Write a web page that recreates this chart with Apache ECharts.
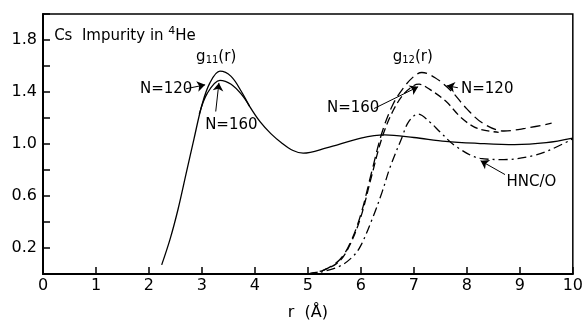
<!DOCTYPE html>
<html>
<head>
<meta charset="utf-8">
<script src="https://cdn.jsdelivr.net/npm/echarts@6/dist/echarts.min.js"></script>
<style>
  html, body { margin: 0; padding: 0; background: #fff; }
  #chart { width: 586px; height: 326px; }
</style>
</head>
<body>
<div id="chart"></div>
<script>
// g11(r), N=120 (solid)
var g11R120 = [2.24, 2.4, 2.55, 2.7, 2.85, 3.0, 3.15, 3.34, 3.55, 3.75, 3.9, 4.1, 4.3, 4.5, 4.72, 4.91, 5.35, 6.0, 6.45, 7.0, 7.6, 8.2, 8.9, 9.5, 10]
var g11V120 = [0.07, 0.27, 0.5, 0.77, 1.04, 1.30, 1.47, 1.56, 1.52, 1.40, 1.29, 1.17, 1.08, 1.01, 0.95, 0.93, 0.97, 1.045, 1.07, 1.05, 1.02, 1.005, 0.995, 1.01, 1.045]
// g11(r), N=160 (solid, only where it separates)
var g11R160 = [2.95, 3.1, 3.34, 3.55, 3.75, 3.9]
var g11V160 = [1.23, 1.39, 1.49, 1.46, 1.38, 1.29]
// g12(r), N=120 (long dash)
var g12R120 = [5.0, 5.3, 5.6, 5.8, 6.0, 6.2, 6.4, 6.6, 6.8, 7.0, 7.15, 7.4, 7.7, 8.0, 8.3, 8.7, 9.1, 9.6]
var g12V120 = [0.0, 0.03, 0.11, 0.24, 0.46, 0.78, 1.09, 1.30, 1.43, 1.52, 1.55, 1.51, 1.41, 1.27, 1.16, 1.10, 1.12, 1.16]
// g12(r), N=160 (dash)
var g12R160 = [5.0, 5.3, 5.6, 5.8, 6.0, 6.2, 6.4, 6.6, 6.8, 7.0, 7.1, 7.3, 7.6, 7.9, 8.2, 8.6]
var g12V160 = [0.0, 0.03, 0.10, 0.23, 0.44, 0.75, 1.05, 1.25, 1.38, 1.45, 1.46, 1.42, 1.33, 1.20, 1.12, 1.09]
// HNC/O (dash-dot)
var hncR = [5.0, 5.2, 5.6, 5.85, 6.0, 6.23, 6.4, 6.55, 6.77, 6.9, 7.08, 7.3, 7.5, 7.8, 8.25, 8.7, 9.25, 9.6, 10]
var hncV = [0.0, 0.01, 0.06, 0.135, 0.22, 0.44, 0.63, 0.82, 1.045, 1.17, 1.23, 1.17, 1.09, 0.98, 0.89, 0.88, 0.91, 0.96, 1.04]
var yLabels = [0.2, 0.6, 1.0, 1.4, 1.8]

function pairs(r, v) {
  return r.map(function (x, i) { return [x, v[i]] })
}

var font = 'DejaVu Sans'
var black = '#000'

var rich = {
  t: { fontSize: 15, color: black, fontFamily: font },
  sup: { fontSize: 11, color: black, fontFamily: font, padding: [0, 0, 9, 0] },
  sub: { fontSize: 10, color: black, fontFamily: font, padding: [8, 0, 0, 0] }
}

// annotation texts, in data coords
var notes = [
  { at: [0.21, 1.83], text: '{t|Cs  Impurity in }{sup|4}{t|He}' },
  { at: [2.89, 1.67], text: '{t|g}{sub|11}{t|(r)}' },
  { at: [6.60, 1.67], text: '{t|g}{sub|12}{t|(r)}' },
  { at: [1.83, 1.42], text: '{t|N=120}' },
  { at: [3.06, 1.144], text: '{t|N=160}' },
  { at: [7.89, 1.425], text: '{t|N=120}' },
  { at: [5.36, 1.273], text: '{t|N=160}' },
  { at: [8.75, 0.704], text: '{t|HNC/O}' }
]
// arrows, in data coords
var arrows = [
  { from: [2.70, 1.425], to: [3.06, 1.455], c: 0 },
  { from: [3.26, 1.25], to: [3.32, 1.47], c: 0 },
  { from: [7.83, 1.433], to: [7.62, 1.448], c: 0 },
  { from: [6.25, 1.273], to: [7.08, 1.44], c: -0.35 },
  { from: [8.72, 0.765], to: [8.26, 0.871], c: 0 }
]

var chart = echarts.init(document.getElementById('chart'))

function curve(name, r, v, type) {
  return {
    name: name,
    type: 'line',
    smooth: 0.35,
    symbol: 'none',
    data: pairs(r, v),
    lineStyle: { color: black, width: 1.3, type: type }
  }
}

var s0 = curve('g11 N=120', g11R120, g11V120, 'solid')
s0.markPoint = {
  symbol: 'circle',
  symbolSize: 0,
  data: notes.map(function (n) {
    return {
      coord: n.at,
      label: { show: true, position: 'right', distance: 0, formatter: n.text, rich: rich }
    }
  })
}
s0.markLine = {
  silent: true,
  symbol: ['none', 'arrow'],
  symbolSize: 8,
  label: { show: false },
  lineStyle: { color: black, width: 1, type: 'solid' },
  data: arrows.map(function (a) {
    return [
      { coord: a.from, lineStyle: { curveness: a.c } },
      { coord: a.to }
    ]
  })
}

chart.setOption({
  animation: false,
  backgroundColor: '#fff',
  grid: {
    left: 43, right: 13, top: 14, bottom: 48,
    show: true, borderColor: black, borderWidth: 1.5
  },
  xAxis: {
    type: 'value',
    min: 0, max: 10, interval: 1,
    name: 'r  (Å)',
    nameLocation: 'middle',
    nameGap: 31,
    nameTextStyle: { color: black, fontSize: 16, fontFamily: font },
    axisLine: { lineStyle: { color: black, width: 2 } },
    axisTick: { inside: true, length: 7, lineStyle: { color: black, width: 1.5 } },
    axisLabel: { color: black, fontSize: 16, fontFamily: font, margin: 4 },
    splitLine: { show: false }
  },
  yAxis: {
    type: 'value',
    min: 0, max: 2, interval: 0.2,
    axisLine: { show: true, lineStyle: { color: black, width: 2 } },
    axisTick: { inside: true, length: 7, lineStyle: { color: black, width: 1.5 } },
    axisLabel: {
      color: black, fontSize: 16, fontFamily: font, margin: 6,
      formatter: function (v) {
        var hit = yLabels.some(function (l) { return Math.abs(l - v) < 1e-6 })
        return hit ? v.toFixed(1) : ''
      }
    },
    splitLine: { show: false }
  },
  series: [
    s0,
    curve('g11 N=160', g11R160, g11V160, 'solid'),
    curve('g12 N=120', g12R120, g12V120, [10, 5]),
    curve('g12 N=160', g12R160, g12V160, [8, 4]),
    curve('HNC/O', hncR, hncV, [9, 4, 2, 4])
  ]
})
</script>
</body>
</html>
